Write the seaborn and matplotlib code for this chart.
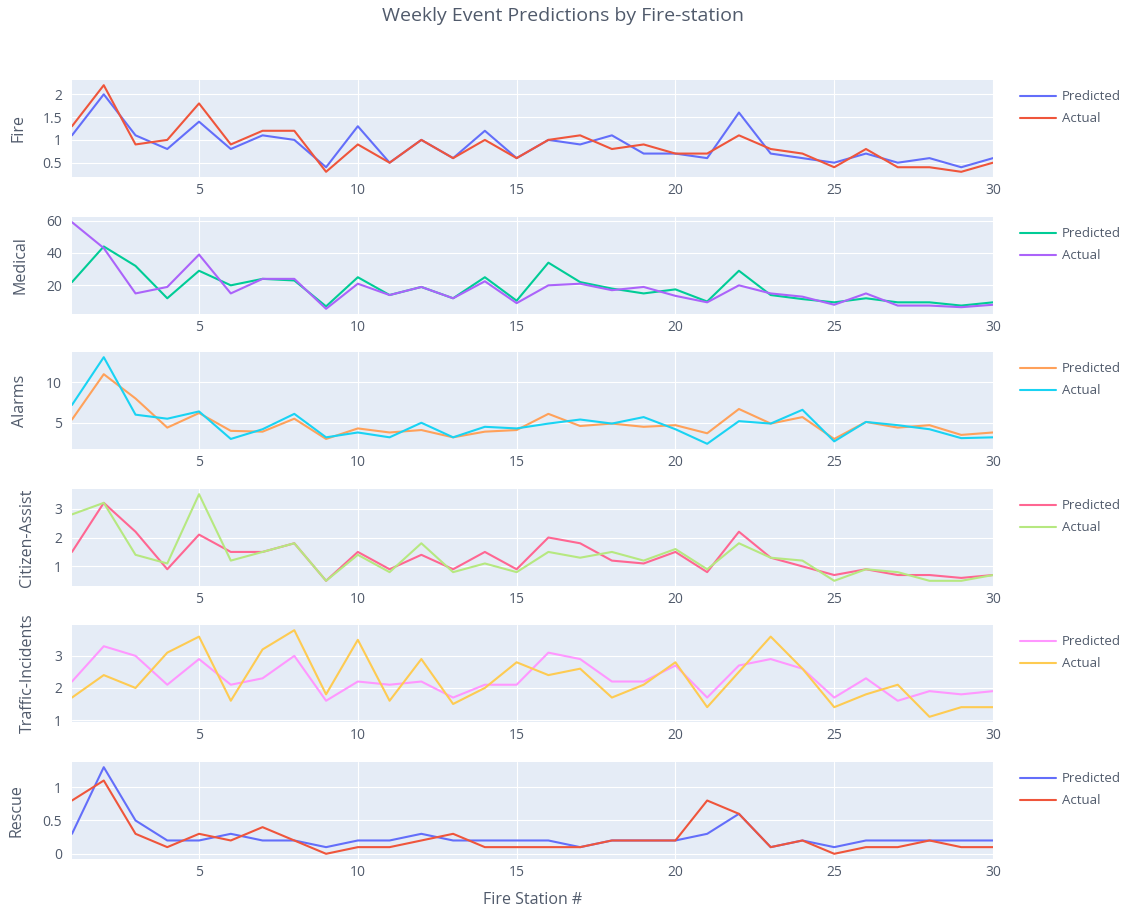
import matplotlib
matplotlib.use("Agg")
import matplotlib.pyplot as plt
import pandas as pd
import seaborn as sns

stations = list(range(1, 31))

fire_pred = [1.1, 2.0, 1.1, 0.8, 1.4, 0.8, 1.1, 1.0, 0.4, 1.3, 0.5, 1.0, 0.6, 1.2, 0.6,
             1.0, 0.9, 1.1, 0.7, 0.7, 0.6, 1.6, 0.7, 0.6, 0.5, 0.7, 0.5, 0.6, 0.4, 0.6]
fire_act = [1.3, 2.2, 0.9, 1.0, 1.8, 0.9, 1.2, 1.2, 0.3, 0.9, 0.5, 1.0, 0.6, 1.0, 0.6,
            1.0, 1.1, 0.8, 0.9, 0.7, 0.7, 1.1, 0.8, 0.7, 0.4, 0.8, 0.4, 0.4, 0.3, 0.5]

medical_pred = [22, 44, 32, 12, 29, 20, 24, 23, 7, 25, 14, 19, 12, 25, 10.5,
                34, 22, 18, 15, 17.5, 10, 29, 14, 11.5, 9.5, 12, 9.5, 9.5, 7.5, 9.5]
medical_act = [59, 43, 15, 19, 39, 15, 24, 24, 5.5, 21, 14, 19, 12, 22.5, 9,
               20, 21, 17, 19, 13.5, 9.5, 20, 15, 13, 8, 15, 7.5, 7.5, 6.5, 8]

alarms_pred = [5.4, 11.0, 8.0, 4.4, 6.2, 4.0, 3.9, 5.5, 3.0, 4.3, 3.8, 4.1, 3.2, 3.9, 4.1,
               6.1, 4.6, 4.9, 4.5, 4.7, 3.7, 6.7, 4.9, 5.7, 3.0, 5.1, 4.4, 4.7, 3.5, 3.8]
alarms_act = [7.2, 13.1, 6.0, 5.5, 6.4, 3.0, 4.2, 6.1, 3.2, 3.8, 3.2, 5.0, 3.2, 4.5, 4.3,
              4.9, 5.4, 4.9, 5.7, 4.2, 2.4, 5.2, 4.9, 6.6, 2.7, 5.1, 4.7, 4.2, 3.1, 3.2]

citizen_pred = [1.5, 3.2, 2.2, 0.9, 2.1, 1.5, 1.5, 1.8, 0.5, 1.5, 0.9, 1.4, 0.9, 1.5, 0.9,
                2.0, 1.8, 1.2, 1.1, 1.5, 0.8, 2.2, 1.3, 1.0, 0.7, 0.9, 0.7, 0.7, 0.6, 0.7]
citizen_act = [2.8, 3.2, 1.4, 1.1, 3.5, 1.2, 1.5, 1.8, 0.5, 1.4, 0.8, 1.8, 0.8, 1.1, 0.8,
               1.5, 1.3, 1.5, 1.2, 1.6, 0.9, 1.8, 1.3, 1.2, 0.5, 0.9, 0.8, 0.5, 0.5, 0.7]

traffic_pred = [2.2, 3.3, 3.0, 2.1, 2.9, 2.1, 2.3, 3.0, 1.6, 2.2, 2.1, 2.2, 1.7, 2.1, 2.1,
                3.1, 2.9, 2.2, 2.2, 2.7, 1.7, 2.7, 2.9, 2.6, 1.7, 2.3, 1.6, 1.9, 1.8, 1.9]
traffic_act = [1.7, 2.4, 2.0, 3.1, 3.6, 1.6, 3.2, 3.8, 1.8, 3.5, 1.6, 2.9, 1.5, 2.0, 2.8,
               2.4, 2.6, 1.7, 2.1, 2.8, 1.4, 2.5, 3.6, 2.6, 1.4, 1.8, 2.1, 1.1, 1.4, 1.4]

rescue_pred = [0.3, 1.3, 0.5, 0.2, 0.2, 0.3, 0.2, 0.2, 0.1, 0.2, 0.2, 0.3, 0.2, 0.2, 0.2,
               0.2, 0.1, 0.2, 0.2, 0.2, 0.3, 0.6, 0.1, 0.2, 0.1, 0.2, 0.2, 0.2, 0.2, 0.2]
rescue_act = [0.8, 1.1, 0.3, 0.1, 0.3, 0.2, 0.4, 0.2, 0.0, 0.1, 0.1, 0.2, 0.3, 0.1, 0.1,
              0.1, 0.1, 0.2, 0.2, 0.2, 0.8, 0.6, 0.1, 0.2, 0.0, 0.1, 0.1, 0.2, 0.1, 0.1]

panels = ["Fire", "Medical", "Alarms", "Citizen-Assist", "Traffic-Incidents", "Rescue"]
predicted = [fire_pred, medical_pred, alarms_pred, citizen_pred, traffic_pred, rescue_pred]
actual = [fire_act, medical_act, alarms_act, citizen_act, traffic_act, rescue_act]
yticks = [[0.5, 1, 1.5, 2], [20, 40, 60], [5, 10], [1, 2, 3], [1, 2, 3], [0, 0.5, 1]]

colors = [("#636EFA", "#EF553B"), ("#00CC96", "#AB63FA"), ("#FFA15A", "#19D3F3"),
          ("#FF6692", "#B6E880"), ("#FF97FF", "#FECB52"), ("#636EFA", "#EF553B")]

sns.set_theme(style="darkgrid", rc={"axes.facecolor": "#E5ECF6", "grid.color": "white",
                                    "grid.linewidth": 0.8})
plt.rcParams["font.family"] = ["Open Sans", "DejaVu Sans"]
text_color = "#505a6b"

W, H = 1127, 911
fig = plt.figure(figsize=(W / 100, H / 100), dpi=100)

left, right = 72, 993
tops = [80, 217, 352, 489, 625, 762]
ph = 97
# centre of each y label, in pixels from the left edge
label_x = [18, 20, 20, 27, 28, 17]

for i, name in enumerate(panels):
    ax = fig.add_axes([left / W, 1 - (tops[i] + ph) / H, (right - left) / W, ph / H])
    df = pd.DataFrame({"station": stations, "Predicted": predicted[i], "Actual": actual[i]})
    sns.lineplot(data=df, x="station", y="Predicted", color=colors[i][0], lw=1.5,
                 label="Predicted", ax=ax)
    sns.lineplot(data=df, x="station", y="Actual", color=colors[i][1], lw=1.5,
                 label="Actual", ax=ax)
    ax.set_xlim(1, 30)
    ax.margins(y=0.06)
    ax.set_xticks([5, 10, 15, 20, 25, 30])
    ax.set_yticks(yticks[i])
    ax.set_yticklabels(["{:g}".format(t) for t in yticks[i]])
    ax.tick_params(axis="both", length=0, labelsize=10, colors=text_color)
    ax.tick_params(axis="x", pad=4)
    ax.tick_params(axis="y", pad=7)
    ax.set_xlabel("")
    ax.set_ylabel(name, fontsize=11.5, color=text_color, va="center")
    ax.yaxis.set_label_coords((label_x[i] - left) / (right - left), 0.5)
    for s in ax.spines.values():
        s.set_visible(False)
    ax.legend(loc="upper left", bbox_to_anchor=(1.024, 0.95), frameon=False,
              fontsize=9.5, handlelength=2.7, handletextpad=0.45, labelspacing=0.7,
              borderaxespad=0, labelcolor=text_color)

fig.text(563 / W, 1 - 16 / H, "Weekly Event Predictions by Fire-station",
         ha="center", va="center", fontsize=14, color=text_color)
fig.text((left + right) / 2 / W, 1 - 900 / H, "Fire Station #",
         ha="center", va="center", fontsize=11.5, color=text_color)

fig.savefig("out.png", dpi=100)
